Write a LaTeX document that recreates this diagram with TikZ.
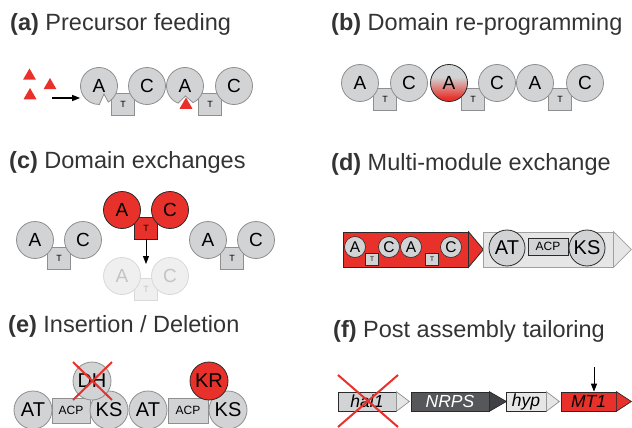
\documentclass[tikz,border=0pt]{standalone}
\usepackage{fontspec}
\setmainfont{Liberation Sans}
\usetikzlibrary{arrows.meta,shapes.geometric}

\definecolor{domfill}{HTML}{D2D3D5}
\definecolor{domline}{HTML}{8F8F8F}
\definecolor{compred}{HTML}{E8312A}
\definecolor{darkline}{HTML}{2A2A2A}
\definecolor{fadefill}{HTML}{EFEFEF}
\definecolor{fadeline}{HTML}{D9D9D9}
\definecolor{fadetext}{HTML}{C4C4C4}
\definecolor{boxgrey}{HTML}{E6E6E6}
\definecolor{boxline}{HTML}{A0A0A0}
\definecolor{nrpsgrey}{HTML}{55575A}
\definecolor{nrpstip}{HTML}{3F4144}
\definecolor{titlegrey}{HTML}{333333}

\pgfdeclareverticalshading{reprog}{100bp}{color(0bp)=(compred); color(30bp)=(compred); color(58bp)=(domfill); color(100bp)=(domfill)}
\pgfdeclareradialshading{redball}{\pgfpoint{0bp}{0bp}}{color(0bp)=(compred); color(30bp)=(compred); color(50bp)=(compred!72!black)}

\tikzset{
  ttl/.style={anchor=base west, inner sep=0pt, text=titlegrey, font=\fontsize{23.5}{28}\selectfont},
  dom/.style={circle, draw=domline, fill=domfill, line width=0.8pt, minimum size=37pt, inner sep=0pt, font=\fontsize{19}{19}\selectfont},
  domtext/.style={dom, draw=none, fill=none},
  domshape/.style={draw=domline, fill=domfill, line width=0.8pt},
  tbox/.style={rectangle, draw=domline, fill=domfill, line width=0.8pt, minimum width=23pt, minimum height=22pt, inner sep=0pt, font=\fontsize{9}{9}\selectfont},
  prec/.style={regular polygon, regular polygon sides=3, fill=compred, minimum size=15pt, inner sep=0pt},
  sdom/.style={circle, draw=darkline, fill=domfill, line width=0.6pt, minimum size=21pt, inner sep=0pt, font=\fontsize{15.5}{15.5}\selectfont},
  stbox/.style={rectangle, draw=darkline, fill=domfill, line width=0.6pt, minimum width=13pt, minimum height=12pt, inner sep=0pt, font=\fontsize{6.5}{6.5}\selectfont},
  pks/.style={circle, draw=domline, fill=domfill, line width=0.8pt, minimum size=38pt, inner sep=0pt, font=\fontsize{20}{20}\selectfont},
  acp/.style={rectangle, draw=domline, fill=domfill, line width=0.8pt, minimum width=38pt, minimum height=25pt, inner sep=0pt, font=\fontsize{12}{12}\selectfont},
  mmbox/.style={rectangle, line width=0.8pt, minimum height=35pt, inner sep=0pt},
  gene/.style={rectangle, draw=darkline, line width=0.7pt, minimum height=19pt, inner sep=0pt, font=\fontsize{17.5}{17.5}\selectfont\itshape},
  crossout/.style={draw=compred, line width=2pt},
}

\begin{document}
\begin{tikzpicture}[x=1pt, y=-1pt, >={Triangle[length=8pt,width=6pt]}]
\useasboundingbox (0,0) rectangle (632,428);

\node[ttl] (tta) at (10,31) {\textbf{(a)} Precursor feeding};
\node[ttl] (ttb) at (331,31) {\textbf{(b)} Domain re-programming};
\node[ttl] (ttc) at (9,168) {\textbf{(c)} Domain exchanges};
\node[ttl] (ttd) at (331,170) {\textbf{(d)} Multi-module exchange};
\node[ttl] (tte) at (8,332) {\textbf{(e)} Insertion / Deletion};
\node[ttl] (ttf) at (333,337) {\textbf{(f)} Post assembly tailoring};

% (a)
\node[tbox] (at1) at (123,104) {T};
\node[tbox] (at2) at (210,104) {T};
\filldraw[domshape] (99,86) ++(60:18.5) arc[start angle=60, end angle=-271, radius=18.5] -- (104,94) -- cycle;
\node[domtext] (aa1) at (99,86) {A};
\node[dom] (ac1) at (147,86) {C};
\filldraw[domshape] (185,86) ++(64.5:18.5) arc[start angle=64.5, end angle=-248, radius=18.5] -- (185.5,96) -- cycle;
\node[domtext] (aa2) at (185,86) {A};
\node[dom] (ac2) at (234,86) {C};
\node[prec] (pre1) at (29.5,76) {};
\node[prec] (pre2) at (50,85.5) {};
\node[prec] (pre3) at (30,95.5) {};
\node[prec] (pre4) at (186,105) {};
\coordinate (feed) at (52,98);
\draw[->, line width=1.2pt] (feed) -- (feed -| aa1.west);

% (b)
\node[tbox] (bt1) at (385,99) {T};
\node[tbox] (bt2) at (473,99) {T};
\node[tbox] (bt3) at (560,99) {T};
\node[dom] (ba1) at (360,83) {A};
\node[dom] (bc1) at (409,83) {C};
\node[dom, shade, shading=reprog, draw=darkline] (ba2) at (449,83) {A};
\node[dom] (bc2) at (497,83) {C};
\node[dom] (ba3) at (535,83) {A};
\node[dom] (bc3) at (585,83) {C};

% (c)
\node[tbox, fill=fadefill, draw=fadeline, text=fadetext] (ft) at (146,289) {T};
\node[dom, fill=fadefill, draw=fadeline, text=fadetext] (fa) at (122,276) {A};
\node[dom, fill=fadefill, draw=fadeline, text=fadetext] (fc) at (170,276) {C};
\node[tbox] (lt) at (59,258) {T};
\node[dom] (la) at (35,240) {A};
\node[dom] (lc) at (83,240) {C};
\node[tbox] (rgt) at (232,258) {T};
\node[dom] (rga) at (208,240) {A};
\node[dom] (rgc) at (256,240) {C};
\node[tbox, fill=compred, draw=darkline] (xt) at (146,228) {T};
\node[dom, shade, shading=redball, draw=darkline] (xa) at (122,210) {A};
\node[dom, shade, shading=redball, draw=darkline] (xc) at (170,210) {C};
\coordinate (swap) at (146,264);
\draw[->, line width=0.9pt] (xt.south) -- (swap);

% (d)
\node[mmbox, fill=compred, draw=darkline, minimum width=125pt] (mr) at (405.5,249.5) {};
\filldraw[fill=compred, draw=darkline, line width=0.8pt] (mr.north east) -- ([xshift=15pt]mr.east) -- (mr.south east) -- cycle;
\node[stbox] (mt1) at (372,259) {T};
\node[stbox] (mt2) at (432,259) {T};
\node[sdom] (ma1) at (355,247) {A};
\node[sdom] (mc1) at (389,247) {C};
\node[sdom] (ma2) at (411,247) {A};
\node[sdom] (mc2) at (451,247) {C};
\node[mmbox, fill=boxgrey, draw=boxline, minimum width=130pt] (mg) at (548,249.5) {};
\filldraw[fill=boxgrey, draw=boxline, line width=0.8pt] (mg.north east) -- ([xshift=18pt]mg.east) -- (mg.south east) -- cycle;
\node[acp, draw=darkline, minimum width=40pt, minimum height=17pt] (macp) at (548,246.5) {ACP};
\node[pks, draw=darkline, minimum size=36pt] (mat) at (507,248) {AT};
\node[pks, draw=darkline, minimum size=36pt] (mks) at (587,248) {KS};

% (e)
\node[pks] (eat1) at (33,410) {AT};
\node[acp] (eacp1) at (71,410.5) {ACP};
\node[pks] (eks1) at (109,410) {KS};
\node[pks] (eat2) at (148,410) {AT};
\node[acp, minimum width=40pt] (eacp2) at (188,410.5) {ACP};
\node[pks] (eks2) at (228,410) {KS};
\node[pks] (edh) at (92,381) {DH};
\node[pks, fill=compred, draw=darkline] (ekr) at (209,381) {KR};
\draw[crossout] (73,362) -- (112,400);
\draw[crossout] (112,362) -- (73,400);

% (f)
\node[gene, fill=domfill, minimum width=58pt] (hal) at (367,401.5) {hal1};
\filldraw[fill=boxgrey, draw=domline, line width=0.7pt] (hal.north east) -- ([xshift=13pt]hal.east) -- (hal.south east) -- cycle;
\node[gene, fill=nrpsgrey, text=white, minimum width=78pt] (nrps) at (450,401.5) {NRPS};
\filldraw[fill=nrpstip, draw=darkline, line width=0.7pt] (nrps.north east) -- ([xshift=17pt]nrps.east) -- (nrps.south east) -- cycle;
\node[gene, fill=boxgrey, minimum width=40pt] (hyp) at (526,401.5) {hyp};
\filldraw[fill=boxgrey, draw=domline, line width=0.7pt] (hyp.north east) -- ([xshift=13pt]hyp.east) -- (hyp.south east) -- cycle;
\node[gene, fill=compred, minimum width=55pt] (mt) at (588.5,401.5) {MT1};
\filldraw[fill=compred, draw=darkline, line width=0.7pt] (mt.north east) -- ([xshift=15pt]mt.east) -- (mt.south east) -- cycle;
\draw[crossout] (338,375) -- (398,427);
\draw[crossout] (398,375) -- (338,427);
\coordinate (tailor) at (594,367);
\draw[->, line width=1pt] (tailor) -- (tailor |- mt.north);
\end{tikzpicture}
\end{document}
